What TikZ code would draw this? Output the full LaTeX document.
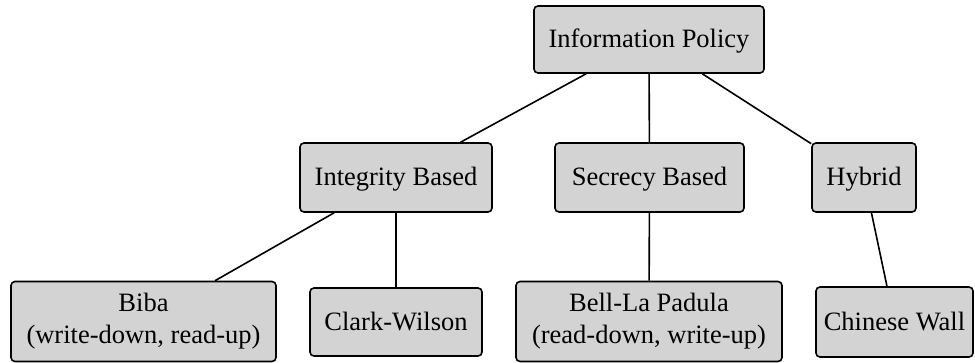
\documentclass[tikz,border=0pt]{standalone}
\usepackage{fontspec}
\setmainfont{Liberation Serif}
\definecolor{boxfill}{RGB}{211,211,211}
\begin{document}
\begin{tikzpicture}[x=1pt,y=-1pt,
  box/.style={draw=black, fill=boxfill, line width=1.6pt, rounded corners=4pt,
    inner sep=0pt, align=center, font=\fontsize{26.5}{32}\selectfont},
  oneline/.style={box, text height=18.5pt, text depth=2.5pt},
  link/.style={line width=1.6pt, draw=black}]
\useasboundingbox (0,0) rectangle (975,362);
% top level
\node[oneline, minimum width=230, minimum height=67] (info) at (649,39.5) {Information Policy};
% policy families
\node[oneline, minimum width=192, minimum height=69] (integ) at (396,177.5) {Integrity Based};
\node[oneline, minimum width=189, minimum height=69] (secr) at (649.5,177.5) {Secrecy Based};
\node[oneline, minimum width=104, minimum height=69] (hyb) at (864,177.5) {Hybrid};
% concrete models
\node[box, minimum width=265, minimum height=80] (biba) at (143.5,321.5) {Biba\\(write-down, read-up)};
\node[oneline, minimum width=172, minimum height=68] (cw) at (396,322) {Clark-Wilson};
\node[box, minimum width=266, minimum height=80] (blp) at (649,321.5) {Bell-La Padula\\(read-down, write-up)};
\node[oneline, minimum width=157, minimum height=70] (chw) at (894.5,322) {Chinese Wall};
% connectors
\draw[link] (info) -- (integ);
\draw[link] (info) -- (secr);
\draw[link] (info) -- (hyb);
\draw[link] (integ) -- (biba);
\draw[link] (integ) -- (cw);
\draw[link] (secr) -- (blp);
\draw[link] (hyb) -- (chw);
\end{tikzpicture}
\end{document}
